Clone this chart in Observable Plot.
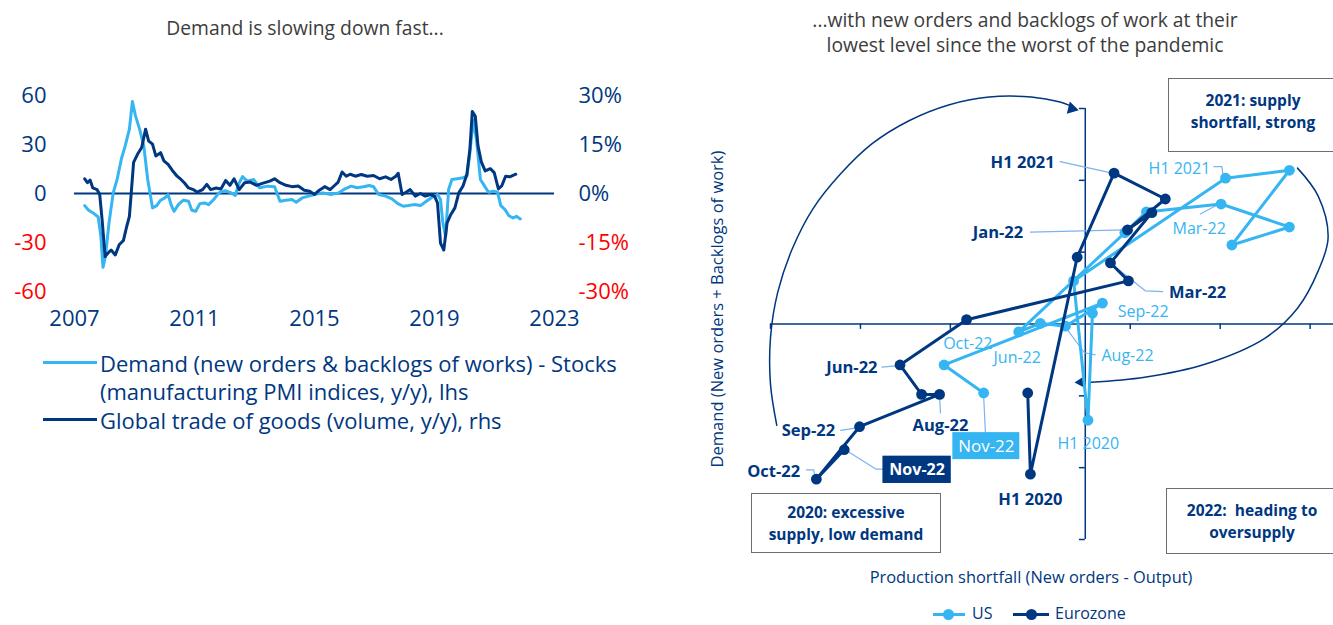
<!DOCTYPE html>
<html><head><meta charset="utf-8">
<script src="https://cdn.jsdelivr.net/npm/d3@7"></script>
<script src="https://cdn.jsdelivr.net/npm/@observablehq/plot@0.6"></script>
<style>
body{margin:0;background:#fff;}
#root{position:relative;width:1333px;height:625px;overflow:hidden;font-family:"Open Sans",sans-serif;color:#003781;background:#fff;}
.abs{position:absolute;white-space:nowrap;}
.title{color:#3c3c3c;font-size:19.3px;text-align:center;line-height:25px;}
.box{position:absolute;border:1.5px solid #6e6e6e;font-weight:bold;font-size:15.5px;text-align:center;line-height:22px;box-sizing:border-box;color:#003781;background:#fff;}
.leg{font-size:22px;line-height:28px;color:#003781;}
.sw{position:absolute;height:3px;}
</style></head><body><div id="root"></div>
<script>
const NAVY = "#003781", LIGHT = "#35B5F1", RED = "#FF0000", LEADER = "#7DB2F0";

// ---------- LEFT PANEL DATA ----------
const yearTicks = [2007, 2011, 2015, 2019, 2023];
const lhsTicks = [60, 30, 0, -30, -60];
const rhsTicks = [30, 15, 0, -15, -30];
// Demand - Stocks (PMI, y/y), lhs: [time, value]
const demand = [
[2007.34,-7.4],[2007.47,-10.3],[2007.65,-12.3],[2007.79,-14.4],[2007.88,-26.3],[2007.95,-45.2],[2008.03,-38.6],
[2008.15,-18.1],[2008.29,0.4],[2008.42,8.6],[2008.56,21],[2008.69,29.2],[2008.83,39.4],[2008.93,56.3],[2009.03,47.7],
[2009.17,39.4],[2009.31,29.2],[2009.44,8.6],[2009.6,-8.8],[2009.74,-7.4],[2009.87,-4.1],[2010.01,-2.7],[2010.12,-0.6],
[2010.23,-7.4],[2010.32,-10.9],[2010.46,-6.8],[2010.63,-4.1],[2010.8,-4.7],[2010.91,-10.3],[2011.04,-10.9],[2011.18,-6.2],
[2011.34,-5.8],[2011.47,-6.8],[2011.64,-3.7],[2011.81,0.4],[2012.02,1.8],[2012.22,0.4],[2012.36,-1.2],[2012.49,6.6],
[2012.6,10.3],[2012.76,7.6],[2012.97,8.6],[2013.17,3.5],[2013.44,4.5],[2013.67,4.1],[2013.85,-4.7],[2014.05,-4.1],
[2014.25,-3.7],[2014.39,-5.3],[2014.59,-2.7],[2014.8,-1.6],[2015.0,-0.6],[2015.27,0.4],[2015.54,-0.6],[2015.81,0.4],
[2016.02,2.9],[2016.22,4.5],[2016.42,3.5],[2016.63,4.1],[2016.83,4.9],[2016.97,4.1],[2017.14,-0.6],[2017.37,-1.6],
[2017.58,-3.3],[2017.78,-6.2],[2017.96,-7.8],[2018.12,-7.4],[2018.32,-6.8],[2018.53,-7.4],[2018.73,-4.7],[2018.93,-2.1],
[2019.1,-0.6],[2019.2,-3.7],[2019.28,-18.1],[2019.37,-26.3],[2019.47,2.5],[2019.58,8.6],[2019.75,9],[2019.95,9.7],
[2020.08,10.7],[2020.18,25],[2020.29,45],[2020.4,33],[2020.53,8.6],[2020.67,4.5],[2020.8,0.8],[2020.97,1.4],
[2021.1,0.8],[2021.21,-7.4],[2021.35,-9.9],[2021.48,-13.6],[2021.62,-15],[2021.73,-14],[2021.86,-15.6]
];
// Global trade of goods (volume, y/y, %), rhs: [time, value %]
const trade = [
[2007.34,4.5],[2007.43,3.3],[2007.52,4.1],[2007.61,1.7],[2007.75,1.2],[2007.84,-0.3],[2007.92,-8.0],[2008.02,-19.3],
[2008.11,-18.3],[2008.22,-17.3],[2008.36,-18.8],[2008.49,-15.7],[2008.63,-14.4],[2008.74,-10.1],[2008.83,-7],[2008.9,1.2],
[2008.97,9.5],[2009.1,12],[2009.24,14.1],[2009.37,19.7],[2009.47,16.1],[2009.6,15.1],[2009.71,11.5],[2009.87,12.5],
[2009.98,10],[2010.12,8.9],[2010.25,7.2],[2010.42,5.3],[2010.55,4.3],[2010.66,3.3],[2010.8,1.7],[2010.96,1.2],
[2011.09,0.4],[2011.27,1.2],[2011.41,2.8],[2011.54,1.2],[2011.72,1.7],[2011.88,1.4],[2012.04,4],[2012.18,2.5],
[2012.32,4.5],[2012.49,1.2],[2012.67,3.3],[2012.86,3.5],[2013.07,2.5],[2013.26,3.1],[2013.51,3.8],[2013.67,4.5],
[2013.85,3.3],[2014.05,2.5],[2014.25,2.1],[2014.46,2.3],[2014.66,1],[2014.84,0.7],[2015.0,-0.3],[2015.16,1],
[2015.34,2.1],[2015.52,1.2],[2015.65,2.3],[2015.79,3.5],[2015.92,6.6],[2016.06,5.3],[2016.19,5.9],[2016.36,5.3],
[2016.56,5.8],[2016.76,5.3],[2016.97,5.5],[2017.17,4.5],[2017.37,5.1],[2017.55,4.3],[2017.71,5.3],[2017.79,6.2],
[2017.92,-0.3],[2018.05,0.4],[2018.19,1.2],[2018.36,-0.8],[2018.53,0],[2018.69,-0.8],[2018.86,-0.3],[2019.0,-0.8],
[2019.1,-2.9],[2019.2,-15.2],[2019.31,-17.3],[2019.42,-9],[2019.54,-6.5],[2019.68,-4.4],[2019.81,0.2],[2019.95,2.3],
[2020.08,5.9],[2020.18,13.6],[2020.26,25.1],[2020.36,23.6],[2020.45,14.6],[2020.56,9.7],[2020.69,6.9],[2020.86,7.6],
[2020.99,6.4],[2021.13,1.4],[2021.24,2.3],[2021.37,5.3],[2021.51,5.1],[2021.71,5.9]
];

// ---------- RIGHT PANEL DATA ----------
const periods = ["H2 2019","H1 2020","H2 2020","H1 2021","H2 2021","Jan-22","Feb-22","Mar-22","Apr-22","May-22","Jun-22","Jul-22","Aug-22","Sep-22","Oct-22","Nov-22"];
const usShortfall = [0.8, 0.3, -1.3, 15.6, 22.7, 16.3, 22.7, 15.1, 6.8, 4.4, -7.4, -5.0, -2.2, 1.9, -15.7, -11.3];
const usDemand    = [1.5, -13.4, 6.0, 20.3, 21.4, 11.0, 13.5, 16.7, 15.6, 12.7, -1.1, 0.1, -0.3, 2.9, -5.7, -9.6];
const ezShortfall = [-6.4, -6.1, -0.9, 3.2, 8.9, 4.7, 7.4, 2.8, 4.8, -13.2, -20.6, -18.2, -16.2, -25.1, -29.9, -26.8];
const ezDemand    = [-9.6, -20.9, 9.3, 21.0, 17.4, 13.1, 15.5, 8.5, 6.0, 0.6, -5.7, -9.8, -9.8, -14.3, -21.6, -17.5];
const xTicksR = [-35, -25, -15, -5, 5, 15, 25];
const yTicksR = [-30, -20, -10, 10, 20, 30];

// annotations (data units)
const ezLabels = [
 {text:"H1 2021", x:-3.4, y:22.4, anchor:"end"},
 {text:"Jan-22", x:-6.9, y:12.7, anchor:"end"},
 {text:"Mar-22", x:9.3, y:4.3, anchor:"start"},
 {text:"Jun-22", x:-23.1, y:-6.1, anchor:"end"},
 {text:"Aug-22", x:-16.1, y:-14.2, anchor:"middle"},
 {text:"Sep-22", x:-27.8, y:-14.9, anchor:"end"},
 {text:"Oct-22", x:-31.7, y:-20.5, anchor:"end"},
 {text:"H1 2020", x:-6.1, y:-24.4, anchor:"middle"}
];
const usLabels = [
 {text:"H1 2021", x:13.9, y:21.6, anchor:"end"},
 {text:"Mar-22", x:9.7, y:13.2, anchor:"start"},
 {text:"Sep-22", x:3.6, y:1.7, anchor:"start"},
 {text:"Oct-22", x:-15.8, y:-2.8, anchor:"start"},
 {text:"Jun-22", x:-10.2, y:-4.7, anchor:"start"},
 {text:"Aug-22", x:1.8, y:-4.5, anchor:"start"},
 {text:"H1 2020", x:-3.1, y:-16.7, anchor:"start"}
];
const boxLabels = [
 {text:"Nov-22", x:-18.7, y:-20.3, w:7.6, h:3.8, fill:NAVY},
 {text:"Nov-22", x:-11.0, y:-17.0, w:7.45, h:3.76, fill:LIGHT}
];
const leaders = [
 [[-2.8,22.6],[3.0,21.0]],
 [[-6.1,12.8],[4.4,13.1]],
 [[2.9,8.4],[6.7,4.6],[8.6,4.5]],
 [[-22.6,-6.0],[-20.8,-5.8]],
 [[-16.2,-10.2],[-16.1,-12.4]],
 [[-27.2,-14.8],[-25.6,-14.5]],
 [[-31.0,-20.3],[-30.2,-20.3],[-30.1,-21.0]],
 [[-26.7,-17.5],[-23.3,-20.2],[-22.5,-20.2]],
 [[14.3,21.9],[15.2,21.9],[15.3,20.8]],
 [[12.8,15.3],[14.7,16.6]],
 [[-2.1,-0.6],[-0.1,-4.0],[1.1,-4.3]],
 [[-11.3,-10.0],[-11.1,-15.2]]
];
const leftArc = [[-34.3,-14.1],[-35.0,-8.4],[-35.0,-1.9],[-34.2,4.4],[-32.6,10.4],[-30.3,16.0],[-27.2,20.9],[-23.7,25.1],[-19.6,28.3],[-15.2,30.5],[-10.7,31.6],[-6.0,31.6],[-2.8,30.9],[-1.7,30.4]];
const rightArc = [[23.6,21.7],[25.9,17.8],[27.0,12.0],[25.9,7.4],[23.6,2.2],[20.0,-1.95],[13.3,-5.6],[6.6,-7.4],[0.6,-8.1]];
const arrowHeads = [{x:-1.5, y:30.0, rotate:104}, {x:-0.4, y:-8.1, rotate:-93}];

const root = document.getElementById("root");
function addDiv(html, cls, style) {
  const d = document.createElement("div");
  d.className = cls; d.innerHTML = html; d.setAttribute("style", style);
  root.appendChild(d); return d;
}

// ---------- LEFT PLOT ----------
const left = Plot.plot({
  width: 640, height: 280,
  marginLeft: 74, marginRight: 86, marginTop: 35, marginBottom: 49,
  style: {fontFamily: "Open Sans, sans-serif", background: "transparent", overflow: "visible"},
  x: {domain: [2007, 2023], axis: null},
  y: {domain: [-60, 60], axis: null},
  marks: [
    Plot.ruleY([0], {stroke: NAVY, strokeWidth: 2}),
    Plot.line(demand, {x: d => d[0], y: d => d[1], stroke: LIGHT, strokeWidth: 3}),
    Plot.line(trade, {x: d => d[0], y: d => d[1] * 2, stroke: NAVY, strokeWidth: 3}),
    Plot.text(lhsTicks.filter(d => d >= 0), {y: d => d, text: d => String(d), frameAnchor: "left", dx: -28, textAnchor: "end", fill: NAVY, fontSize: 22}),
    Plot.text(lhsTicks.filter(d => d < 0), {y: d => d, text: d => String(d), frameAnchor: "left", dx: -28, textAnchor: "end", fill: RED, fontSize: 22}),
    Plot.text(rhsTicks.filter(d => d >= 0), {y: d => d * 2, text: d => d + "%", frameAnchor: "right", dx: 24, textAnchor: "start", fill: NAVY, fontSize: 22}),
    Plot.text(rhsTicks.filter(d => d < 0), {y: d => d * 2, text: d => d + "%", frameAnchor: "right", dx: 24, textAnchor: "start", fill: RED, fontSize: 22}),
    Plot.text(yearTicks, {x: d => d, text: d => String(d), frameAnchor: "bottom", dy: 34, fill: NAVY, fontSize: 22})
  ]
});
left.style.position = "absolute"; left.style.left = "0px"; left.style.top = "60px";
root.appendChild(left);

// ---------- RIGHT PLOT ----------
const usRows = periods.map((p, i) => ({period: p, x: usShortfall[i], y: usDemand[i]}));
const ezRows = periods.map((p, i) => ({period: p, x: ezShortfall[i], y: ezDemand[i]}));
const leaderRows = leaders.flatMap((pts, id) => pts.map(([x, y]) => ({id, x, y})));

const right = Plot.plot({
  width: 633, height: 520,
  marginLeft: 70, marginRight: 0, marginTop: 48, marginBottom: 41,
  style: {fontFamily: "Open Sans, sans-serif", background: "transparent", overflow: "visible"},
  x: {domain: [-35, 27.6], axis: null},
  y: {domain: [-30, 30], axis: null},
  marks: [
    Plot.ruleY([0], {x1: -35, x2: 27.6, stroke: NAVY, strokeWidth: 1.5}),
    Plot.ruleX([0], {y1: -30, y2: 30, stroke: NAVY, strokeWidth: 1.5}),
    Plot.ruleX(xTicksR, {x: d => d, y1: -0.75, y2: 0, stroke: NAVY, strokeWidth: 1.5}),
    Plot.ruleY(yTicksR, {y: d => d, x1: -0.65, x2: 0, stroke: NAVY, strokeWidth: 1.5}),
    Plot.line(leftArc, {x: d => d[0], y: d => d[1], curve: "catmull-rom", stroke: NAVY, strokeWidth: 1.5}),
    Plot.line(rightArc, {x: d => d[0], y: d => d[1], curve: "catmull-rom", stroke: NAVY, strokeWidth: 1.5}),
    Plot.dot(arrowHeads, {x: "x", y: "y", rotate: "rotate", symbol: "triangle", r: 4.6, fill: NAVY, stroke: "none"}),
    Plot.line(leaderRows, {x: "x", y: "y", z: "id", stroke: LEADER, strokeWidth: 1.2}),
    Plot.line(usRows, {x: "x", y: "y", stroke: LIGHT, strokeWidth: 3}),
    Plot.dot(usRows, {x: "x", y: "y", r: 5.4, fill: LIGHT, stroke: "none"}),
    Plot.line(ezRows, {x: "x", y: "y", stroke: NAVY, strokeWidth: 3}),
    Plot.dot(ezRows, {x: "x", y: "y", r: 5.4, fill: NAVY, stroke: "none"}),
    ...["start", "middle", "end"].map(a => Plot.text(ezLabels, {filter: d => d.anchor === a, x: "x", y: "y", text: "text", textAnchor: a, fill: NAVY, fontWeight: "bold", fontSize: 16.5})),
    ...["start", "middle", "end"].map(a => Plot.text(usLabels, {filter: d => d.anchor === a, x: "x", y: "y", text: "text", textAnchor: a, fill: LIGHT, fontSize: 16})),
    Plot.rect(boxLabels, {x1: d => d.x - d.w / 2, x2: d => d.x + d.w / 2, y1: d => d.y - d.h / 2, y2: d => d.y + d.h / 2, fill: d => d.fill}),
    Plot.text(boxLabels.slice(0, 1), {x: "x", y: "y", text: "text", fill: "white", fontWeight: "bold", fontSize: 16}),
    Plot.text(boxLabels.slice(1), {x: "x", y: "y", text: "text", fill: "white", fontSize: 17})
  ]
});
right.style.position = "absolute"; right.style.left = "700px"; right.style.top = "60px";
root.appendChild(right);

// ---------- TEXT / LEGENDS ----------
addDiv("Demand is slowing down fast...", "abs title", "left:105px;width:400px;top:15px;");
addDiv("...with new orders and backlogs of work at their<br>lowest level since the worst of the pandemic", "abs title", "left:725px;width:600px;top:7px;");

addDiv("", "sw", `left:43px;top:361px;width:54px;background:${LIGHT};`);
addDiv("Demand (new orders &amp; backlogs of works) - Stocks<br>(manufacturing PMI indices, y/y), lhs", "abs leg", "left:100px;top:349px;");
addDiv("", "sw", `left:43px;top:418px;width:54px;background:${NAVY};`);
addDiv("Global trade of goods (volume, y/y), rhs", "abs leg", "left:100px;top:406px;");

addDiv("2021: supply<br>shortfall, strong", "box", "left:1168px;top:78px;width:170px;height:74px;padding-top:10px;");
addDiv("2022:&nbsp; heading to<br>oversupply", "box", "left:1166px;top:488px;width:172px;height:66px;padding-top:10px;");
addDiv("2020: excessive<br>supply, low demand", "box", "left:751px;top:493px;width:190px;height:60px;padding-top:7px;");

addDiv("Demand (New orders + Backlogs of work)", "abs", "left:716px;top:309px;font-size:16.5px;color:#003781;transform:translate(-50%,-50%) rotate(-90deg);");
addDiv("Production shortfall (New orders - Output)", "abs", "left:1031px;top:576px;font-size:16.4px;color:#003781;transform:translate(-50%,-50%);");

// right legend
addDiv("", "sw", `left:933px;top:613px;width:32px;background:${LIGHT};`);
addDiv("", "abs", `left:943px;top:609px;width:11px;height:11px;border-radius:50%;background:${LIGHT};`);
addDiv("US", "abs", "left:972px;top:604px;font-size:16px;line-height:18px;color:#003781;");
addDiv("", "sw", `left:1013px;top:613px;width:36px;background:${NAVY};`);
addDiv("", "abs", `left:1026px;top:609px;width:11px;height:11px;border-radius:50%;background:${NAVY};`);
addDiv("Eurozone", "abs", "left:1055px;top:604px;font-size:16px;line-height:18px;color:#003781;");
</script>
</body></html>
